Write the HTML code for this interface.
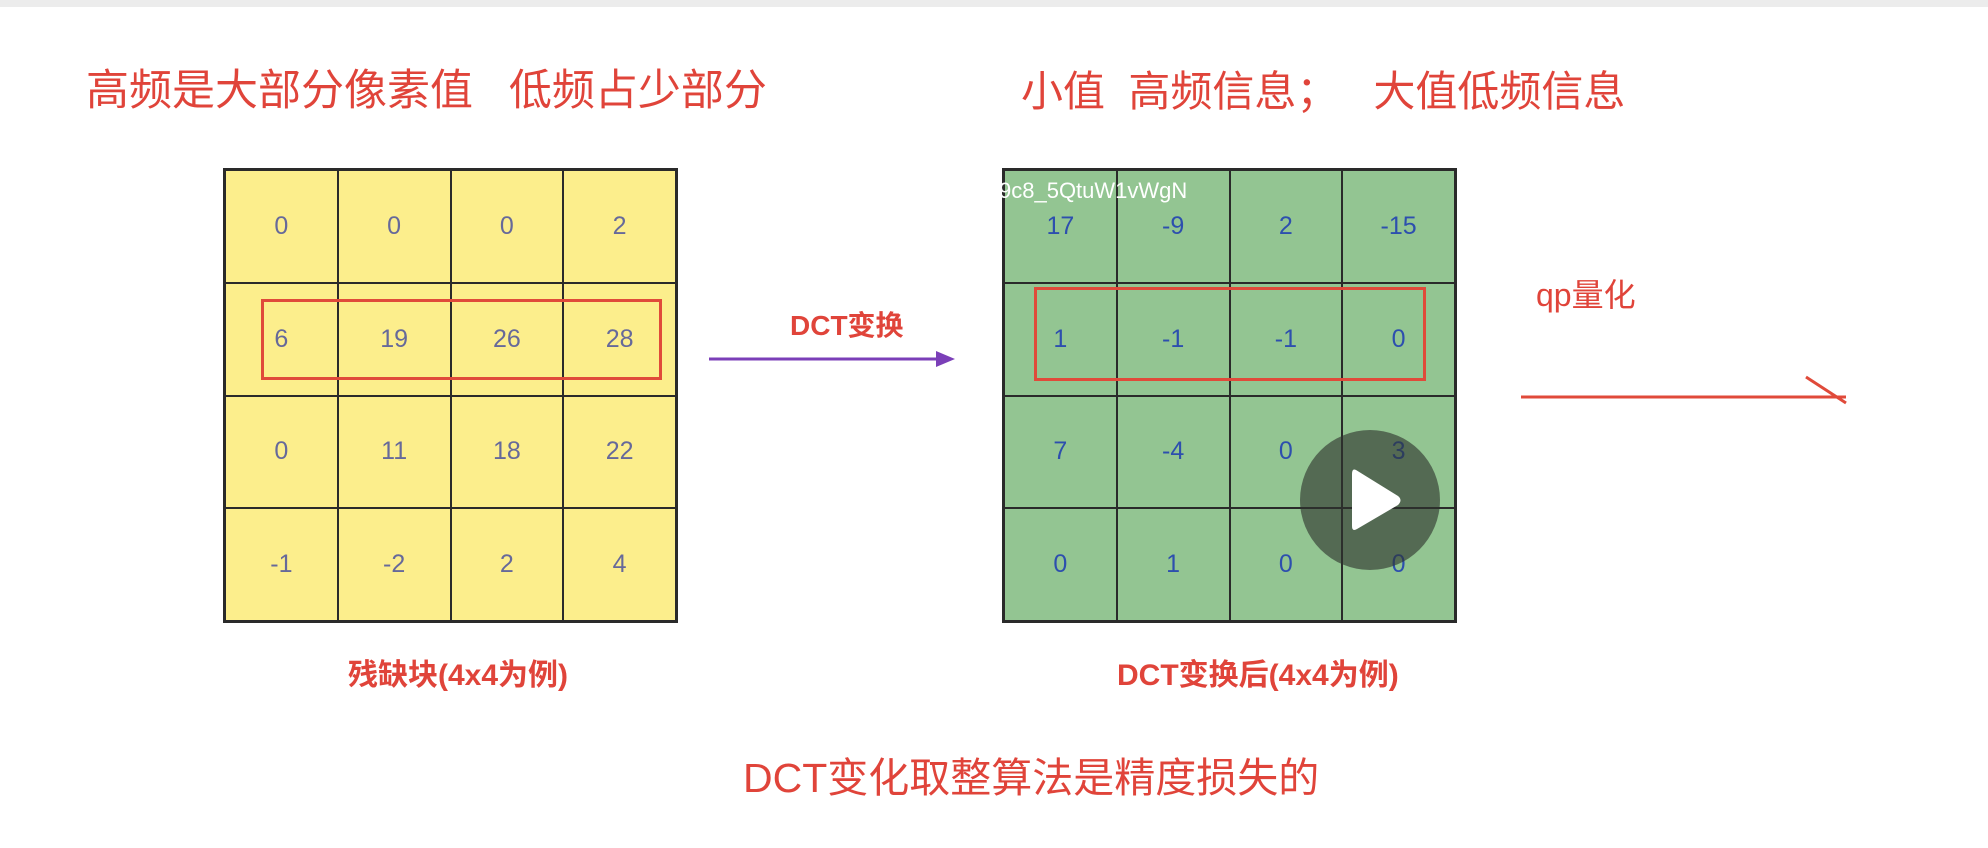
<!DOCTYPE html>
<html><head><meta charset="utf-8"><style>
body{margin:0;width:1988px;height:848px;background:#fff;position:relative;overflow:hidden;font-family:"Liberation Sans","Noto Sans CJK SC",sans-serif}
.t{position:absolute;white-space:nowrap;color:#e0443a}
.g{position:absolute;display:grid;grid-template-columns:repeat(4,1fr);grid-template-rows:repeat(4,1fr);border:2px solid #2a2a2a;box-sizing:border-box}
.g div{border:1.5px solid #2a2a2a;display:flex;align-items:center;justify-content:center;font-size:25px}
.y div{background:#fcee8c;color:#66699a}
.gr div{background:#93c592;color:#2d4fae}
.box{position:absolute;border:3px solid #e04a3a;box-sizing:border-box}
</style></head><body>
<div style="position:absolute;left:0;top:0;width:1988px;height:7px;background:#ececec"></div>
<div class="t" style="left:86px;top:56px;font-size:43px">高频是大部分像素值&nbsp;&nbsp;&nbsp;低频占少部分</div>
<div class="t" style="left:1021px;top:58px;font-size:42px">小值&nbsp;&nbsp;高频信息；&nbsp;&nbsp;&nbsp;大值低频信息</div>
<div class="g y" style="left:223px;top:168px;width:455px;height:455px">
<div>0</div><div>0</div><div>0</div><div>2</div>
<div>6</div><div>19</div><div>26</div><div>28</div>
<div>0</div><div>11</div><div>18</div><div>22</div>
<div>-1</div><div>-2</div><div>2</div><div>4</div>
</div>
<div class="box" style="left:261px;top:299px;width:401px;height:81px"></div>
<div class="g gr" style="left:1002px;top:168px;width:455px;height:455px">
<div>17</div><div>-9</div><div>2</div><div>-15</div>
<div>1</div><div>-1</div><div>-1</div><div>0</div>
<div>7</div><div>-4</div><div>0</div><div>3</div>
<div>0</div><div>1</div><div>0</div><div>0</div>
</div>
<div class="box" style="left:1034px;top:287px;width:392px;height:94px"></div>
<div class="t" style="left:999px;top:178px;font-size:22px;color:#fff">9c8_5QtuW1vWgN</div>
<div class="t" style="left:790px;top:304px;font-size:28px;font-weight:bold">DCT变换</div>
<div class="t" style="left:1536px;top:270px;font-size:32px">qp量化</div>
<div class="t" style="left:348px;top:650px;font-size:30px;font-weight:bold">残缺块(4x4为例)</div>
<div class="t" style="left:1117px;top:650px;font-size:30px;font-weight:bold">DCT变换后(4x4为例)</div>
<div class="t" style="left:743px;top:744px;font-size:41px">DCT变化取整算法是精度损失的</div>
<svg style="position:absolute;left:0;top:0" width="1988" height="848">
<line x1="709" y1="359" x2="940" y2="359" stroke="#7b3fb8" stroke-width="3"/>
<polygon points="955,359 936,351 936,367" fill="#7b3fb8"/>
<line x1="1521" y1="397" x2="1846" y2="397" stroke="#e04a3a" stroke-width="3"/>
<line x1="1806" y1="377" x2="1846" y2="403" stroke="#e04a3a" stroke-width="3"/>
<circle cx="1370" cy="500" r="70" fill="rgba(45,50,45,0.62)"/>
<path d="M1356 470 Q1352 468 1352 474 L1352 526 Q1352 532 1357 529 L1398 505 Q1403 500 1398 496 Z" fill="#fff"/>
</svg>
</body></html>
